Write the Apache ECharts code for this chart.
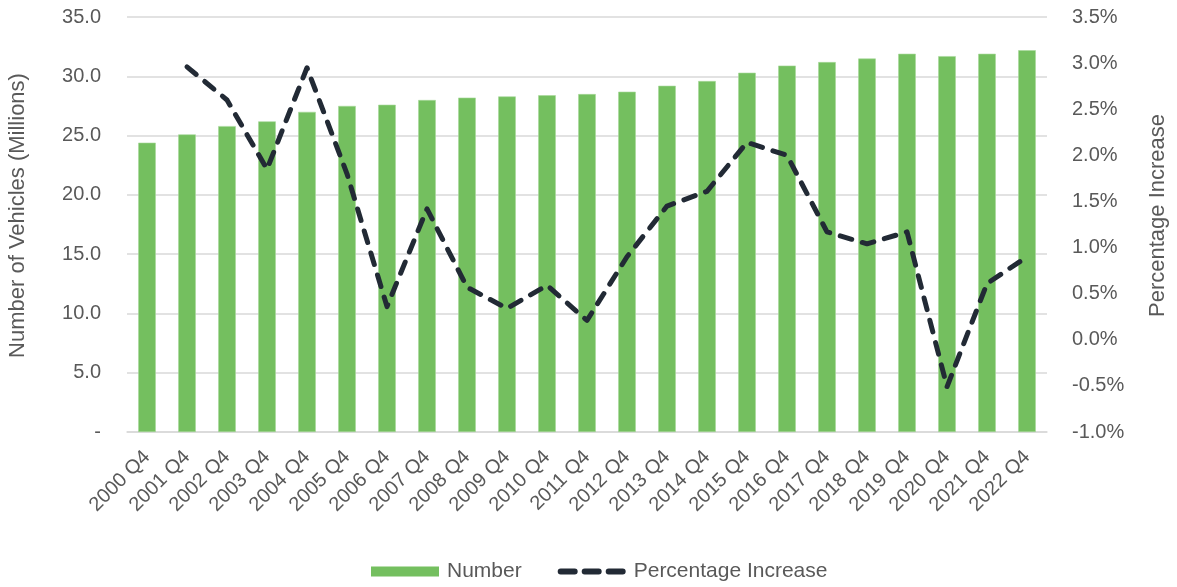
<!DOCTYPE html>
<html>
<head>
<meta charset="utf-8">
<script src="https://cdn.jsdelivr.net/npm/echarts@6/dist/echarts.min.js"></script>
<style>
html,body{margin:0;padding:0;background:#fff;}
#c{width:1177px;height:587px;}
</style>
</head>
<body>
<div id="c"></div>
<script>
const categories = ["2000 Q4","2001 Q4","2002 Q4","2003 Q4","2004 Q4","2005 Q4","2006 Q4","2007 Q4","2008 Q4","2009 Q4","2010 Q4","2011 Q4","2012 Q4","2013 Q4","2014 Q4","2015 Q4","2016 Q4","2017 Q4","2018 Q4","2019 Q4","2020 Q4","2021 Q4","2022 Q4"];
const numberValues = [24.4, 25.1, 25.8, 26.2, 27.0, 27.5, 27.6, 28.0, 28.2, 28.3, 28.4, 28.5, 28.7, 29.2, 29.6, 30.3, 30.9, 31.2, 31.5, 31.9, 31.7, 31.9, 32.2];
const pctValues = [null, 2.96, 2.60, 1.85, 2.95, 1.80, 0.36, 1.42, 0.57, 0.34, 0.59, 0.21, 0.90, 1.45, 1.61, 2.14, 2.00, 1.17, 1.04, 1.17, -0.51, 0.61, 0.90];
const leftTicks = {min: 0, max: 35, interval: 5};
const rightTicks = {min: -1, max: 3.5, interval: 0.5};

const FONT = '"Liberation Sans", Arial, sans-serif';
const TXT = '#595959';
const FS = 20;
const NAME_FS = 22;
const LEG_FS = 21;
const dashIcon = 'path://M3,2h14a3,3 0 0 1 0,6h-14a3,3 0 0 1 0,-6z M27,2h14a3,3 0 0 1 0,6h-14a3,3 0 0 1 0,-6z M51,2h14a3,3 0 0 1 0,6h-14a3,3 0 0 1 0,-6z';
const chart = echarts.init(document.getElementById('c'));
chart.setOption({
  animation: false,
  textStyle: {fontFamily: FONT},
  grid: {left: 127, right: 130, top: 17, bottom: 155, containLabel: false, outerBoundsMode: 'none'},
  legend: {
    left: 371, top: 561, padding: 0,
    itemWidth: 68, itemHeight: 10, itemGap: 36,
    textStyle: {color: TXT, fontSize: LEG_FS, fontFamily: FONT, padding: [0,0,0,3]},
    data: [
      {name: 'Number', icon: 'rect', itemStyle: {color: '#74BF5F', borderWidth: 0}},
      {name: 'Percentage Increase', icon: dashIcon, itemStyle: {color: '#222A35'}}
    ]
  },
  xAxis: {
    type: 'category',
    data: categories,
    axisLine: {lineStyle: {color: '#D9D9D9', width: 1.5}},
    axisTick: {show: false},
    axisLabel: {color: TXT, fontSize: FS, fontFamily: FONT, rotate: 45, margin: 22, interval: 0}
  },
  yAxis: [
    {
      type: 'value', min: leftTicks.min, max: leftTicks.max, interval: leftTicks.interval,
      name: 'Number of Vehicles (Millions)', nameLocation: 'middle', nameGap: 98,
      nameTextStyle: {color: TXT, fontSize: NAME_FS, fontFamily: FONT, padding: [0,0,0,18]},
      axisLine: {show: false}, axisTick: {show: false},
      axisLabel: {color: TXT, fontSize: FS, fontFamily: FONT, margin: 26,
        formatter: v => v === 0 ? '-' : v.toFixed(1)},
      splitLine: {lineStyle: {color: '#D9D9D9', width: 1.5}}
    },
    {
      type: 'value', min: rightTicks.min, max: rightTicks.max, interval: rightTicks.interval,
      name: 'Percentage Increase', nameLocation: 'middle', nameGap: 100, nameRotate: 90,
      nameTextStyle: {color: TXT, fontSize: NAME_FS, fontFamily: FONT, padding: [0,0,0,18]},
      axisLine: {show: false}, axisTick: {show: false},
      axisLabel: {color: TXT, fontSize: FS, fontFamily: FONT, margin: 25,
        formatter: v => v.toFixed(1) + '%'},
      splitLine: {show: false}
    }
  ],
  series: [
    {
      name: 'Number', type: 'bar', data: numberValues, yAxisIndex: 0,
      barWidth: '44%',
      itemStyle: {color: '#74BF5F', borderColor: '#A8D99A', borderWidth: 0.6}
    },
    {
      name: 'Percentage Increase', type: 'line', data: pctValues, yAxisIndex: 1,
      symbol: 'none', connectNulls: false,
      lineStyle: {color: '#222A35', width: 5, type: [12, 11], cap: 'round', join: 'round'},
      itemStyle: {color: '#222A35'}
    }
  ]
});
</script>
</body>
</html>
